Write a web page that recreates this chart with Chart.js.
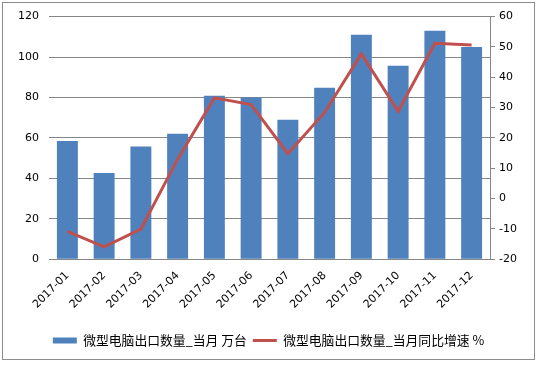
<!DOCTYPE html>
<html>
<head>
<meta charset="utf-8">
<script src="https://cdn.jsdelivr.net/npm/chart.js@4"></script>
<style>
  html, body { margin: 0; padding: 0; background: #fff; }
  #wrap { width: 537px; height: 365px; }
</style>
</head>
<body>
<div id="wrap"><canvas id="exportChart" width="537" height="365"></canvas></div>
<script>
const months = ['2017-01', '2017-02', '2017-03', '2017-04', '2017-05', '2017-06',
                '2017-07', '2017-08', '2017-09', '2017-10', '2017-11', '2017-12'];
const volume = [58.5, 42.6, 55.7, 62, 80.8, 80, 69, 84.8, 111, 95.7, 113, 105];
const growth = [-10.8, -15.9, -10.1, 13, 33.2, 31, 14.8, 28.4, 47.7, 28.8, 51.2, 50.6];
const leftTicks = [0, 20, 40, 60, 80, 100, 120];
const rightTicks = [-20, -10, 0, 10, 20, 30, 40, 50, 60];

const tickFont = { family: 'DejaVu Sans', size: 11 };
const cjkFont = { family: 'Noto Sans CJK SC', size: 12.8 };

// grey frame around the whole picture
const frame = {
    id: 'frame',
    beforeDraw(chart) {
        const c = chart.ctx;
        c.save();
        c.strokeStyle = '#8c8c8c';
        c.lineWidth = 1;
        c.strokeRect(2.5, 2.5, 532, 357);
        c.restore();
    }
};

new Chart(document.getElementById('exportChart'), {
    data: {
        labels: months,
        datasets: [{
            type: 'line',
            label: '微型电脑出口数量_当月同比增速 %',
            data: growth,
            yAxisID: 'y2',
            borderColor: '#C0504D',
            backgroundColor: '#C0504D',
            borderWidth: 3,
            pointRadius: 0,
            pointStyle: 'line',
            tension: 0,
            order: 1
        }, {
            type: 'bar',
            label: '微型电脑出口数量_当月 万台',
            data: volume,
            yAxisID: 'y',
            backgroundColor: '#4F81BD',
            borderWidth: 0,
            pointStyle: 'rect',
            barPercentage: 0.57,
            categoryPercentage: 1,
            order: 2
        }]
    },
    options: {
        responsive: false,
        animation: false,
        layout: { padding: { top: 10, left: 0, right: 0, bottom: 8 } },
        plugins: {
            legend: {
                position: 'bottom',
                reverse: true,
                labels: {
                    usePointStyle: true,
                    pointStyleWidth: 24,
                    boxHeight: 6,
                    padding: 6,
                    color: '#000',
                    font: cjkFont
                }
            },
            tooltip: { enabled: false }
        },
        scales: {
            x: {
                afterFit: s => { s.height = 69; },
                grid: { display: false },
                border: { display: true, color: '#868686' },
                ticks: {
                    color: '#000',
                    font: tickFont,
                    maxRotation: 45,
                    minRotation: 45,
                    padding: 2
                }
            },
            y: {
                position: 'left',
                min: 0,
                max: 120,
                afterBuildTicks: s => { s.ticks = leftTicks.map(v => ({ value: v })); },
                afterFit: s => { s.width = 49; },
                grid: { color: '#868686', drawTicks: false },
                border: { display: false },
                ticks: { color: '#000', font: tickFont, padding: 10 }
            },
            y2: {
                position: 'right',
                min: -20,
                max: 60,
                afterBuildTicks: s => { s.ticks = rightTicks.map(v => ({ value: v })); },
                afterFit: s => { s.width = 47; },
                grid: { drawOnChartArea: false, color: '#868686', tickLength: 5 },
                border: { display: true, color: '#868686' },
                ticks: { color: '#000', font: tickFont, padding: 4 }
            }
        }
    },
    plugins: [frame]
});
</script>
</body>
</html>
